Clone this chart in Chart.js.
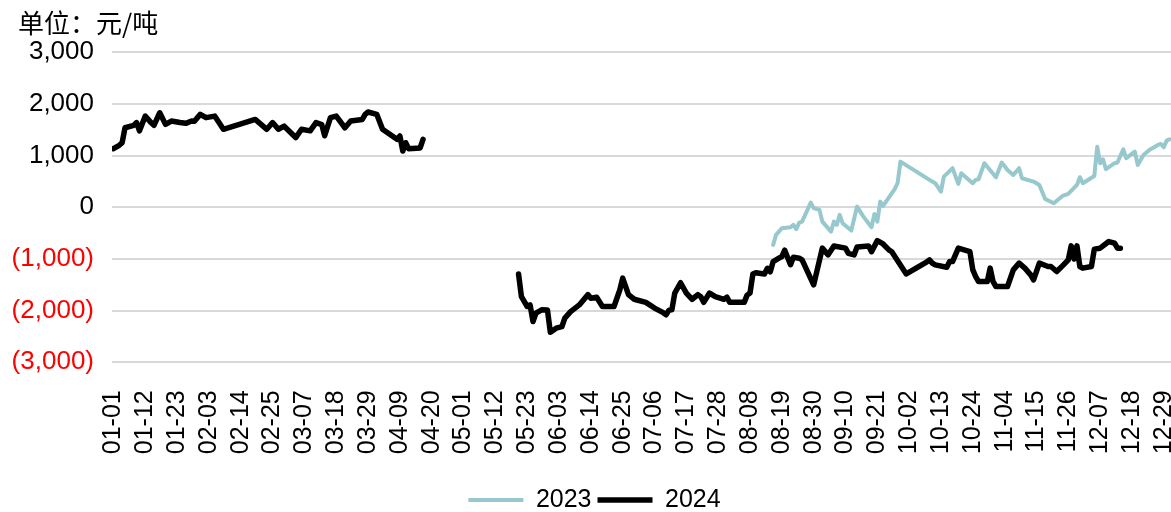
<!DOCTYPE html>
<html><head><meta charset="utf-8">
<script src="https://cdn.jsdelivr.net/npm/chart.js@4/dist/chart.umd.min.js"></script>
<style>html,body{margin:0;padding:0;background:#fff}#wrap{width:1171px;height:512px}</style>
</head><body><div id="wrap"><canvas id="c" width="1171" height="512"></canvas></div>
<script>
// Categories: every day of the (leap) year, MM-DD
const monthDays = [31,29,31,30,31,30,31,31,30,31,30,31];
const categories = [];
monthDays.forEach((n, m) => { for (let d = 1; d <= n; d++) categories.push(String(m + 1).padStart(2, '0') + '-' + String(d).padStart(2, '0')); });
const tickStep = 11; // an x label every 11 days (01-01, 01-12, ... 12-29)
const yTicks = [-3000, -2000, -1000, 0, 1000, 2000, 3000];

const dates2023 = ['08-16','08-17','08-19','08-22','08-23','08-24','08-25','08-26','08-29','08-30',
  '09-01','09-02','09-05','09-06','09-07','09-08','09-09','09-12','09-14','09-16','09-19','09-20','09-21','09-22','09-23','09-27','09-28','09-29',
  '10-10','10-11','10-13','10-14','10-17','10-19','10-20','10-24','10-25','10-26','10-28',
  '11-01','11-03','11-05','11-07','11-09','11-10','11-14','11-16','11-18','11-21','11-24','11-26','11-29','11-30',
  '12-01','12-05','12-06','12-07','12-08','12-09','12-12','12-13','12-15','12-16','12-19','12-20','12-22','12-24','12-27','12-28','12-29','12-30','12-31'];
const values2023 = [-727,-534,-405,-385,-340,-424,-296,-277,91,-17,
  -50,-277,-470,-277,-340,-147,-308,-451,14,-166,-385,-128,-277,110,27,350,466,884,
  497,466,304,594,756,453,660,466,530,543,853,
  582,866,723,627,756,563,498,433,162,79,220,259,433,582,
  466,607,1174,853,930,737,853,866,1124,950,1077,820,1013,1110,1207,1226,1162,1290,1317];

const dates2024 = ['01-01','01-03','01-04','01-05','01-08','01-09','01-10','01-12','01-14','01-15','01-17','01-19','01-21','01-24','01-26','01-28','01-29','01-31',
  '02-02','02-05','02-08','02-19','02-23','02-25','02-27','02-29',
  '03-04','03-06','03-09','03-11','03-13','03-14','03-16','03-18','03-21','03-23','03-27','03-28','03-29',
  '04-01','04-03','04-08','04-09','04-10','04-11','04-12','04-16','04-17',
  '05-01',
  '05-20','05-21','05-23','05-24','05-25','05-26','05-28','05-30','05-31',
  '06-02','06-04','06-05','06-07','06-10','06-13','06-14','06-16','06-18','06-22','06-24','06-25','06-27','06-29',
  '07-03','07-06','07-09','07-10','07-11','07-12','07-13','07-15','07-17','07-19','07-21','07-22','07-23','07-25','07-27','07-30','07-31',
  '08-01','08-06','08-07','08-08','08-09','08-10','08-13','08-14','08-15','08-16','08-18','08-19','08-20','08-22','08-23','08-25','08-26','08-30',
  '09-02','09-04','09-06','09-10','09-11','09-13','09-14','09-18','09-19','09-21','09-23','09-25','09-26',
  '10-01','10-08','10-09','10-10','10-11','10-15','10-16','10-17','10-19','10-23','10-24','10-25','10-26','10-29','10-30','10-31',
  '11-01','11-05','11-07','11-09','11-11','11-13','11-14','11-16','11-19','11-20','11-22','11-24','11-26','11-27','11-28','11-29','11-30',
  '12-01','12-04','12-05','12-07','12-10','12-12','12-13','12-14'];
const values2024 = [1135,1200,1250,1540,1585,1640,1480,1765,1640,1585,1830,1605,1670,1640,1625,1670,1665,1800,
  1735,1765,1510,1700,1510,1640,1510,1570,
  1350,1510,1480,1640,1600,1385,1735,1765,1540,1670,1700,1800,1845,
  1800,1510,1315,1380,1090,1250,1135,1150,1315,
  null,
  -1290,-1730,-1920,-1890,-2210,-2050,-1985,-1990,-2420,
  -2340,-2310,-2145,-2020,-1890,-1690,-1760,-1740,-1920,-1920,-1600,-1370,-1690,-1780,
  -1840,-1950,-2040,-2080,-1990,-1985,-1660,-1460,-1660,-1780,-1690,-1730,-1840,-1660,-1730,-1780,-1740,
  -1840,-1840,-1700,-1660,-1290,-1265,-1290,-1180,-1250,-1050,-985,-953,-830,-1110,-966,-985,-1017,-1500,
  -790,-920,-750,-790,-890,-920,-770,-750,-860,-645,-710,-825,-860,
  -1290,-1060,-1017,-1080,-1115,-1160,-1050,-1050,-790,-857,-1211,-1340,-1437,-1437,-1178,-1437,
  -1533,-1533,-1211,-1081,-1178,-1307,-1404,-1081,-1146,-1146,-1243,-1133,-1017,-747,-1000,-747,-1146,
  -1178,-1146,-810,-791,-663,-695,-791,-791];

const toPoints = (dates, vals) => dates.map((d, i) => ({ x: categories.indexOf(d), y: vals[i] }));
const latin = '"Liberation Sans", Arial, sans-serif';

// let the y labels use the space left of the axis box (title indent)
const widenYLabels = { id: 'widenYLabels', afterLayout(chart) { const y = chart.scales.y; y.left = 0; } };

new Chart(document.getElementById('c'), {
  type: 'line',
  plugins: [widenYLabels],
  data: {
    datasets: [
      { label: '2023', data: toPoints(dates2023, values2023), borderColor: '#96C8CD', backgroundColor: '#96C8CD',
        borderWidth: 4, pointRadius: 0, tension: 0, borderJoinStyle: 'round', borderCapStyle: 'round' },
      { label: '2024', data: toPoints(dates2024, values2024), borderColor: '#000000', backgroundColor: '#000000',
        borderWidth: 5.5, pointRadius: 0, tension: 0, borderJoinStyle: 'round', borderCapStyle: 'round' }
    ]
  },
  options: {
    responsive: false,
    animation: false,
    layout: { padding: { left: 18, right: 0, top: 0, bottom: -10.5 } },
    scales: {
      x: {
        type: 'linear', min: -0.5, max: 365.5,
        afterBuildTicks: s => { s.ticks = categories.map((c, i) => i).filter(i => i % tickStep === 0).map(v => ({ value: v })); },
        ticks: { autoSkip: false, minRotation: 90, maxRotation: 90, padding: 20, color: '#000',
          font: { family: latin, size: 25 }, callback: v => categories[v] },
        grid: { display: false }, border: { display: false },
        afterFit: s => { s.paddingLeft = 0; s.paddingRight = 0; s.height = 119.2; }
      },
      y: {
        min: -3000, max: 3000,
        afterBuildTicks: s => { s.ticks = yTicks.map(v => ({ value: v })); },
        ticks: { padding: 18, font: { family: latin, size: 26 },
          color: ctx => (ctx.tick && ctx.tick.value < 0) ? '#FF0000' : '#000000',
          callback: v => v === 0 ? '0' : (v < 0 ? '(' + Math.abs(v).toLocaleString('en-US') + ')' : v.toLocaleString('en-US')) },
        grid: { color: '#D9D9D9', lineWidth: 2, drawTicks: false }, border: { display: false },
        afterFit: s => { s.width = 94; }
      }
    },
    plugins: {
      title: { display: true, text: '单位：元/吨', align: 'start', color: '#000',
        font: { family: '"Noto Sans CJK SC", sans-serif', size: 26, weight: 'normal' }, padding: { top: 8, bottom: 13.1 } },
      legend: { position: 'bottom',
        labels: { usePointStyle: true, pointStyle: 'line', pointStyleWidth: 55, padding: 6, color: '#000',
          font: { family: latin, size: 25 } } },
      tooltip: { enabled: false }
    }
  }
});
</script></body></html>
